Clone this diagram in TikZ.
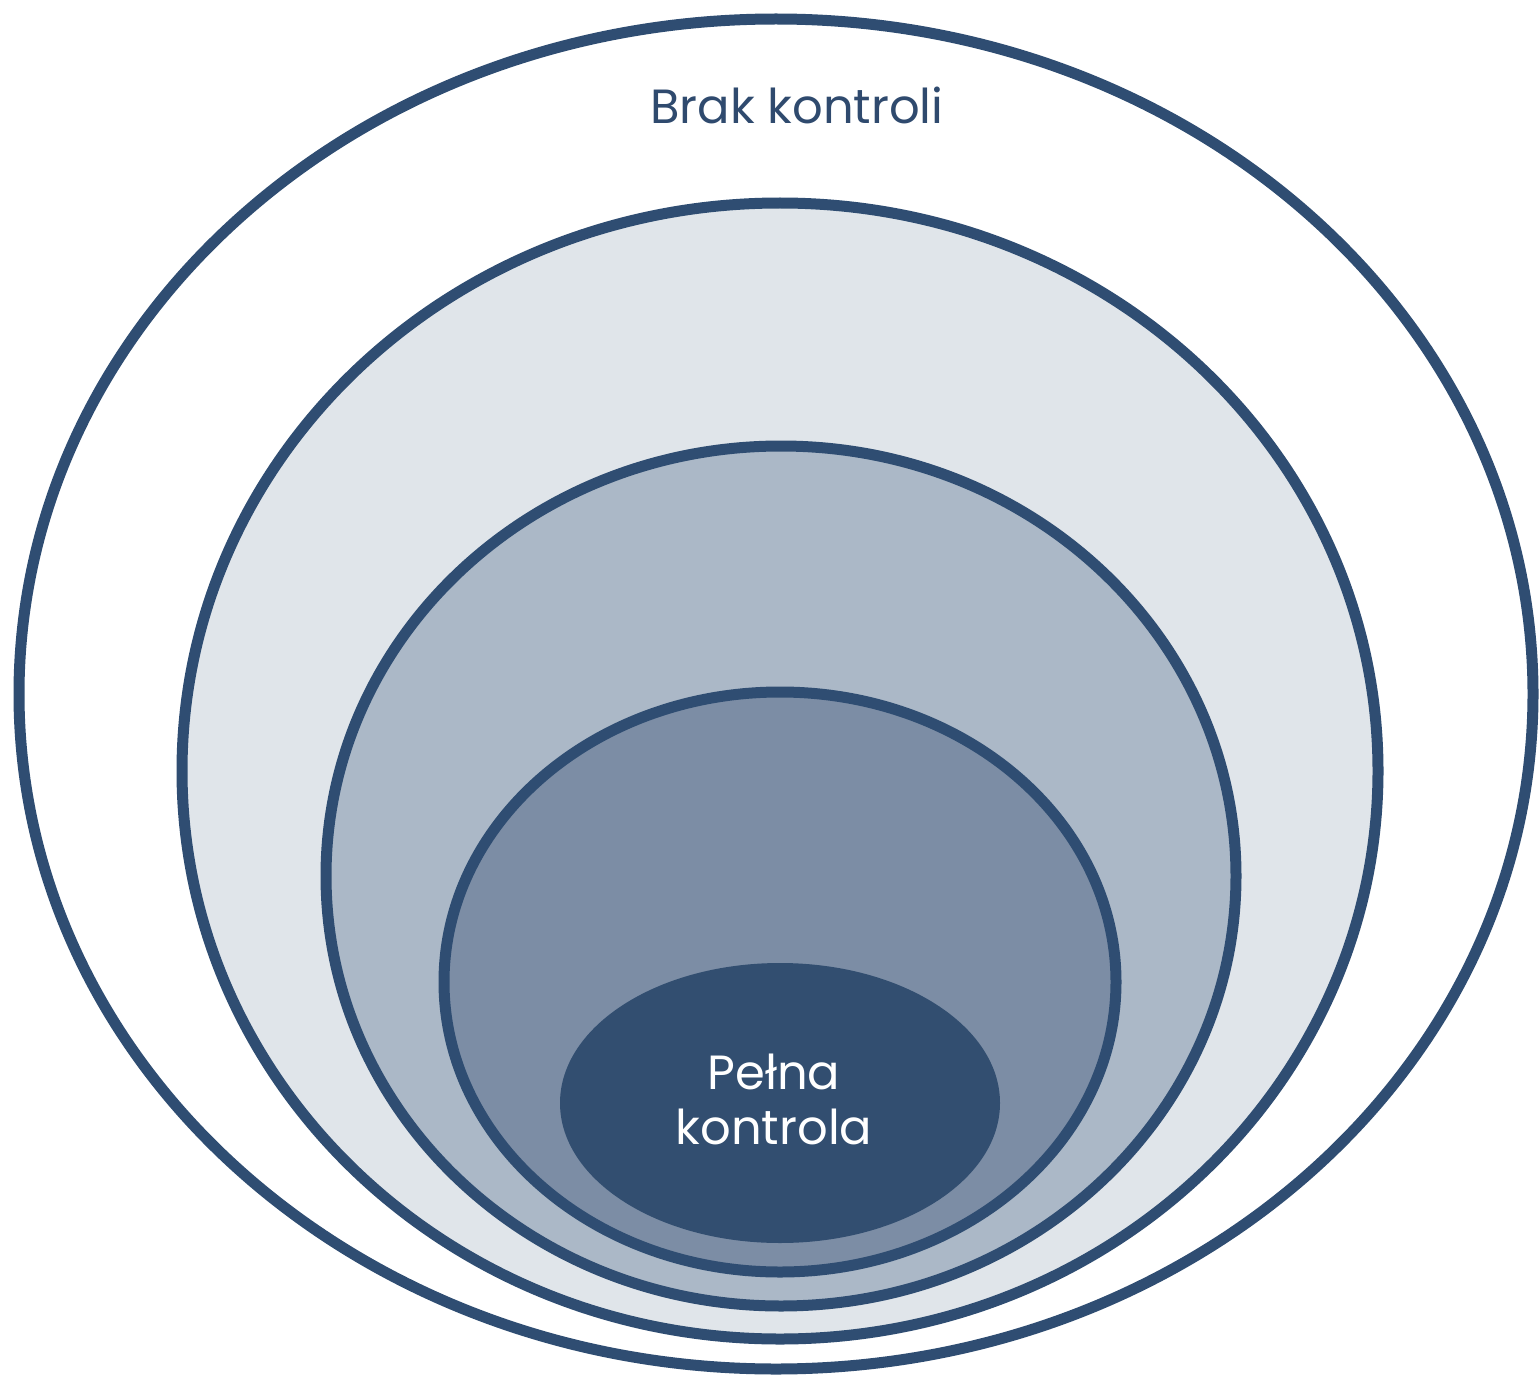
\documentclass[tikz,border=0pt]{standalone}
\usepackage{fontspec}
\setmainfont{Poppins}
\definecolor{ring}{HTML}{2F4D72}
\definecolor{txt}{HTML}{2F4A6E}
\definecolor{fillA}{HTML}{E0E5EA}
\definecolor{fillB}{HTML}{ABB8C7}
\definecolor{fillC}{HTML}{7C8DA5}
\definecolor{fillD}{HTML}{324E70}
\begin{document}
\begin{tikzpicture}[x=1bp,y=-1bp,
  ringline/.style={draw=ring,line width=11bp},
  lbl/.style={font=\fontsize{48bp}{55bp}\selectfont,align=center,inner sep=0pt}]
\useasboundingbox[fill=white] (0,0) rectangle (1540,1381);
\path[ringline,fill=white] (776,694) ellipse [x radius=757,y radius=675];
\path[ringline,fill=fillA] (780,771) ellipse [x radius=598,y radius=568];
\path[ringline,fill=fillB] (781,876) ellipse [x radius=455,y radius=430];
\path[ringline,fill=fillC] (780,982) ellipse [x radius=336,y radius=290];
\path[fill=fillD] (780,1103) ellipse [x radius=220,y radius=140];
\node[lbl,text=txt,anchor=base] (outer) at (797,124) {Brak kontroli};
\node[lbl,text=white,anchor=base] (inner) at (774,1144) {Pełna\\kontrola};
\end{tikzpicture}
\end{document}
